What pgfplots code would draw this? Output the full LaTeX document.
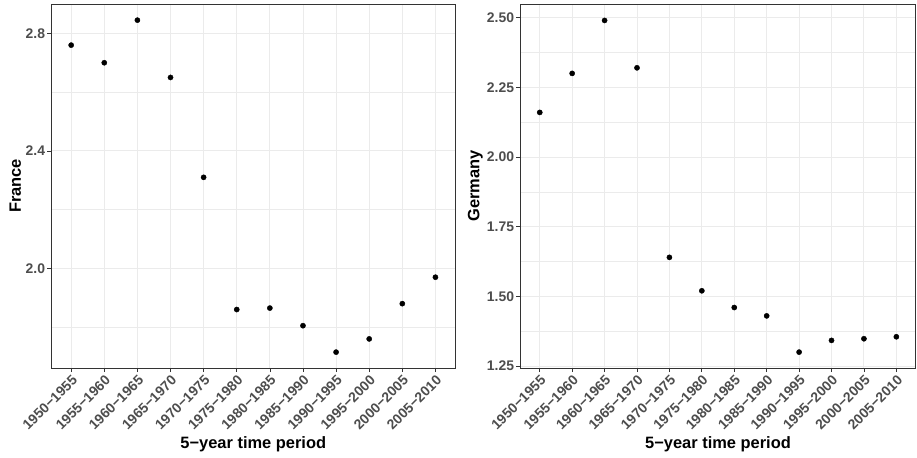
\documentclass[border=0pt]{standalone}
\usepackage{fontspec}
\setmainfont{Liberation Sans}
\usepackage{pgfplots}
\usepackage{pgfplotstable}
\pgfplotsset{compat=1.18}
\definecolor{g20}{HTML}{333333}
\definecolor{g30}{HTML}{4D4D4D}
\definecolor{g92}{HTML}{EBEBEB}

\pgfplotstableread{
x y
0 2.76
1 2.70
2 2.845
3 2.65
4 2.31
5 1.86
6 1.865
7 1.805
8 1.715
9 1.76
10 1.88
11 1.97
}\france

\pgfplotstableread{
x y
0 2.16
1 2.30
2 2.49
3 2.32
4 1.64
5 1.52
6 1.46
7 1.43
8 1.30
9 1.342
10 1.348
11 1.355
}\germany

\pgfplotsset{gg/.style={
  scale only axis, height=364bp,
  xmin=-0.6, xmax=11.6, xtick={0,...,11},
  xticklabels={1950−1955,1955−1960,1960−1965,1965−1970,1970−1975,1975−1980,1980−1985,1985−1990,1990−1995,1995−2000,2000−2005,2005−2010},
  axis line style={g20, line width=0.7bp},
  major tick style={g20, line width=0.7bp},
  tick pos=left,
  tick align=outside, major tick length=4bp, minor tick length=0pt,
  xmajorgrids, ymajorgrids, yminorgrids,
  major grid style={g92, line width=0.9bp},
  minor grid style={g92, line width=0.5bp},
  ticklabel style={font=\fontsize{14}{16}\selectfont\bfseries, text=g30},
  /pgf/number format/assume math mode=true,
  xticklabel style={rotate=45, anchor=north east, inner sep=1.5bp},
  yticklabel style={inner sep=2bp},
  xlabel={5−year time period},
  xlabel style={at={(axis description cs:0.5,-0.2198)}, anchor=base, font=\fontsize{16.5}{19}\selectfont\bfseries, text=black},
  ylabel style={rotate=0, anchor=center, font=\fontsize{16.5}{19}\selectfont\bfseries, text=black},
  scaled y ticks=false,
}}

\begin{document}
\begin{tikzpicture}
\useasboundingbox (0,0) rectangle (917bp,458bp);
\begin{axis}[gg, at={(51.3bp,90bp)}, anchor=south west, width=404bp,
  ymin=1.661, ymax=2.90, ytick={2.0,2.4,2.8}, minor ytick={1.8,2.2,2.6},
  yticklabel style={/pgf/number format/.cd, fixed, fixed zerofill, precision=1},
  ylabel={France},
  ylabel style={at={(axis description cs:-0.0891,0.5)}}]
\addplot[only marks, mark=*, mark size=2.6bp, black] table[x=x,y=y] {\france};
\end{axis}
\begin{axis}[gg, at={(520.3bp,90bp)}, anchor=south west, width=395.5bp,
  ymin=1.243, ymax=2.549, ytick={1.25,1.5,1.75,2.0,2.25,2.5}, minor ytick={1.375,1.625,1.875,2.125,2.375},
  yticklabel style={/pgf/number format/.cd, fixed, fixed zerofill, precision=2},
  ylabel={Germany},
  ylabel style={at={(axis description cs:-0.1137,0.5)}}]
\addplot[only marks, mark=*, mark size=2.6bp, black] table[x=x,y=y] {\germany};
\end{axis}
\end{tikzpicture}
\end{document}
